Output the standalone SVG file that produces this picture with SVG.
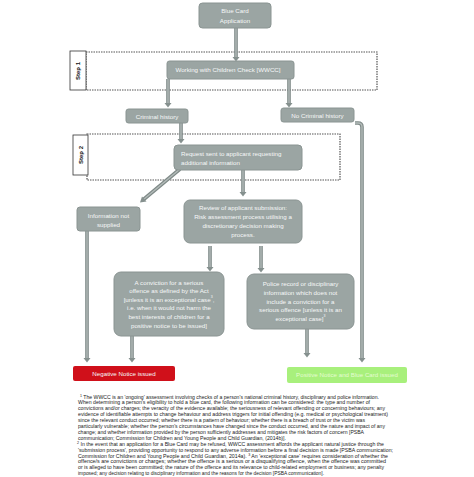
<svg xmlns="http://www.w3.org/2000/svg" width="474" height="477" viewBox="0 0 474 477">
<style>
.box{fill:#9ba5a3;stroke:#8a9492;stroke-width:1}
.t{font-family:"Liberation Sans",Arial,sans-serif;font-size:6.2px;fill:#f6f8f8;text-anchor:middle;dominant-baseline:central}
.tl{text-anchor:start}
.step{fill:#fff;stroke:#333;stroke-width:0.8}
.st{font-family:"Liberation Sans",Arial,sans-serif;font-size:6px;font-weight:bold;fill:#111;text-anchor:middle;dominant-baseline:central}
.dash{fill:none;stroke:#555;stroke-width:1.2;stroke-dasharray:1.5,1}
.sh{fill:none;stroke:#7e8987;stroke-width:3.6}
.si{fill:none;stroke:#b3bbb9;stroke-width:1.4}
.ah{fill:#85908e}
.fn{font-family:"Liberation Sans",Arial,sans-serif;font-size:5px;fill:#222}
.sup{font-size:3.5px}
</style>
<rect width="474" height="477" fill="#fff"/>

<g id="step1">
<rect class="dash" x="86" y="52" width="291" height="38"/>
<rect class="step" x="70" y="51" width="16" height="39"/>
<text class="st" transform="translate(78,71) rotate(-90)">Step 1</text>
</g>
<g id="step2">
<rect class="dash" x="87" y="134" width="253" height="46"/>
<rect class="step" x="73" y="135" width="15" height="40"/>
<text class="st" transform="translate(80.5,155) rotate(-90)">Step 2</text>
</g>

<g id="connectors">
<path class="sh" d="M236,28V58"/><path class="si" d="M236,28V58"/><polygon class="ah" points="232.5,57 239.5,57 236,61.5"/>
<path class="sh" d="M168,79V104"/><path class="si" d="M168,79V104"/><polygon class="ah" points="164.5,103 171.5,103 168,107.5"/>
<path class="sh" d="M289,79V104"/><path class="si" d="M289,79V104"/><polygon class="ah" points="285.5,103 292.5,103 289,107.5"/>
<path class="sh" d="M181,123V140"/><path class="si" d="M181,123V140"/><polygon class="ah" points="177.5,139 184.5,139 181,143.5"/>
<path class="sh" d="M180,169L143.5,199.5"/><path class="si" d="M180,169L143.5,199.5"/><polygon class="ah" points="140,202.5 142,196.5 146.5,201.5"/>
<path class="sh" d="M243,170V193"/><path class="si" d="M243,170V193"/><polygon class="ah" points="239.5,192 246.5,192 243,196.5"/>
<path class="sh" d="M87,231V359"/><path class="si" d="M87,231V359"/><polygon class="ah" points="83.5,358 90.5,358 87,362.5"/>
<path class="sh" d="M210,246V268"/><path class="si" d="M210,246V268"/><polygon class="ah" points="206.5,267 213.5,267 210,271.5"/>
<path class="sh" d="M261,246V269"/><path class="si" d="M261,246V269"/><polygon class="ah" points="257.5,268 264.5,268 261,272.5"/>
<path class="sh" d="M132,336V359"/><path class="si" d="M132,336V359"/><polygon class="ah" points="128.5,358 135.5,358 132,362.5"/>
<path class="sh" d="M307,329V354"/><path class="si" d="M307,329V354"/><polygon class="ah" points="303.5,353 310.5,353 307,357.5"/>
<path class="sh" d="M355,123H358Q362,123 362,127V359"/><path class="si" d="M355,123H358Q362,123 362,127V359"/><polygon class="ah" points="358.5,358 365.5,358 362,362.5"/>
</g>

<g id="blue-card">
<rect class="box" x="199" y="3" width="72" height="25" rx="3.5"/>
<text class="t" x="235" y="10.7">Blue Card</text>
<text class="t" x="235" y="20">Application</text>
</g>
<g id="wwcc">
<rect class="box" x="167" y="61" width="127" height="18" rx="2.5"/>
<text class="t" x="228" y="69.5">Working with Children Check [WWCC]</text>
</g>
<g id="criminal">
<rect class="box" x="126" y="109" width="62" height="14" rx="2.5"/>
<text class="t" x="157" y="116">Criminal history</text>
</g>
<g id="no-criminal">
<rect class="box" x="281" y="108" width="73" height="14" rx="2.5"/>
<text class="t" x="317.5" y="115">No Criminal history</text>
</g>
<g id="request">
<rect class="box" x="174" y="145" width="128" height="25" rx="4"/>
<text class="t tl" x="181" y="153.3">Request sent to applicant requesting</text>
<text class="t tl" x="181" y="162.3">additional information</text>
</g>
<g id="info-not">
<rect class="box" x="77" y="207" width="63" height="24" rx="3"/>
<text class="t" x="108.5" y="215">Information not</text>
<text class="t" x="108.5" y="224">supplied</text>
</g>
<g id="review">
<rect class="box" x="184" y="200" width="118" height="43" rx="6"/>
<text class="t" x="243" y="207.3">Review of applicant submission:</text>
<text class="t" x="243" y="216.3">Risk assessment process utilising a</text>
<text class="t" x="243" y="225.5">discretionary decision making</text>
<text class="t" x="243" y="234.7">process.</text>
</g>
<g id="conviction">
<rect class="box" x="114" y="272" width="110" height="64" rx="7"/>
<text class="t" x="169" y="282">A conviction for a serious</text>
<text class="t" x="169" y="290.5">offence as defined by the Act</text>
<text class="t" x="169" y="299">[unless it is an exceptional case<tspan class="sup" dy="-2">3</tspan><tspan dy="2">,</tspan></text>
<text class="t" x="169" y="307.5">i.e. when it would not harm the</text>
<text class="t" x="169" y="316">best interests of children for a</text>
<text class="t" x="169" y="325">positive notice to be issued]</text>
</g>
<g id="police">
<rect class="box" x="247" y="274" width="107" height="55" rx="7"/>
<text class="t" x="300.5" y="283.7">Police record or disciplinary</text>
<text class="t" x="300.5" y="292.3">information which does not</text>
<text class="t" x="300.5" y="301">include a conviction for a</text>
<text class="t" x="300.5" y="309.5">serious offence [unless it is an</text>
<text class="t" x="300.5" y="318">exceptional case]<tspan class="sup" dy="-2">3</tspan></text>
</g>
<g id="negative">
<rect x="73" y="366" width="102" height="15" rx="2" fill="#d0101a"/>
<text class="t" x="124" y="373.7">Negative Notice issued</text>
</g>
<g id="positive">
<rect x="287" y="367" width="120" height="16" rx="2" fill="#a8f07c"/>
<text class="t" x="347" y="374.5" fill="#e6ffd6" style="fill:#e4fcd2">Positive Notice and Blue Card issued</text>
</g>

<g id="footnotes">
<text class="fn" x="80" y="398.5" textLength="299" lengthAdjust="spacingAndGlyphs"><tspan class="sup" dy="-1.5">1</tspan><tspan dy="1.5"> The WWCC is an 'ongoing' assessment involving checks of a person's national criminal history, disciplinary and police information.</tspan></text>
<text class="fn" x="78" y="404.4" textLength="292" lengthAdjust="spacingAndGlyphs">When determining a person's eligibility to hold a blue card, the following information can be considered: the type and number of</text>
<text class="fn" x="78" y="410.3" textLength="307" lengthAdjust="spacingAndGlyphs">convictions and/or charges; the veracity of the evidence available; the seriousness of relevant offending or concerning behaviours; any</text>
<text class="fn" x="78" y="416.2" textLength="310" lengthAdjust="spacingAndGlyphs">evidence of identifiable attempts to change behaviour and address triggers for initial offending (e.g. medical or psychological treatment)</text>
<text class="fn" x="78" y="422.1" textLength="287" lengthAdjust="spacingAndGlyphs">since the relevant conduct occurred; whether there is a pattern of behaviour; whether there is a breach of trust or the victim was</text>
<text class="fn" x="78" y="428" textLength="307" lengthAdjust="spacingAndGlyphs">particularly vulnerable; whether the person's circumstances have changed since the conduct occurred, and the nature and impact of any</text>
<text class="fn" x="78" y="433.9" textLength="286" lengthAdjust="spacingAndGlyphs">change; and whether information provided by the person sufficiently addresses and mitigates the risk factors of concern [PSBA</text>
<text class="fn" x="78" y="439.8" textLength="208" lengthAdjust="spacingAndGlyphs">communication; Commission for Children and Young People and Child Guardian, (2014b)].</text>
<text class="fn" x="77" y="445.7" textLength="307" lengthAdjust="spacingAndGlyphs"><tspan class="sup" dy="-1.5">2</tspan><tspan dy="1.5"> In the event that an application for a Blue Card may be refused, WWCC assessment affords the applicant natural justice through the</tspan></text>
<text class="fn" x="78" y="451.6" textLength="315" lengthAdjust="spacingAndGlyphs">'submission process', providing opportunity to respond to any adverse information before a final decision is made [PSBA communication;</text>
<text class="fn" x="78" y="457.5" textLength="310" lengthAdjust="spacingAndGlyphs">Commission for Children and Young People and Child Guardian, 2014a). <tspan class="sup" dy="-1.5">3</tspan><tspan dy="1.5"> An 'exceptional case' requires consideration of whether the</tspan></text>
<text class="fn" x="78" y="463.4" textLength="308" lengthAdjust="spacingAndGlyphs">offence/s are convictions or charges; whether the offence is a serious or a disqualifying offence, when the offence was committed</text>
<text class="fn" x="78" y="469.3" textLength="306" lengthAdjust="spacingAndGlyphs">or is alleged to have been committed; the nature of the offence and its relevance to child-related employment or business; any penalty</text>
<text class="fn" x="78" y="475.2" textLength="246" lengthAdjust="spacingAndGlyphs">imposed; any decision relating to disciplinary information and the reasons for the decision [PSBA communication].</text>
</g>
</svg>
